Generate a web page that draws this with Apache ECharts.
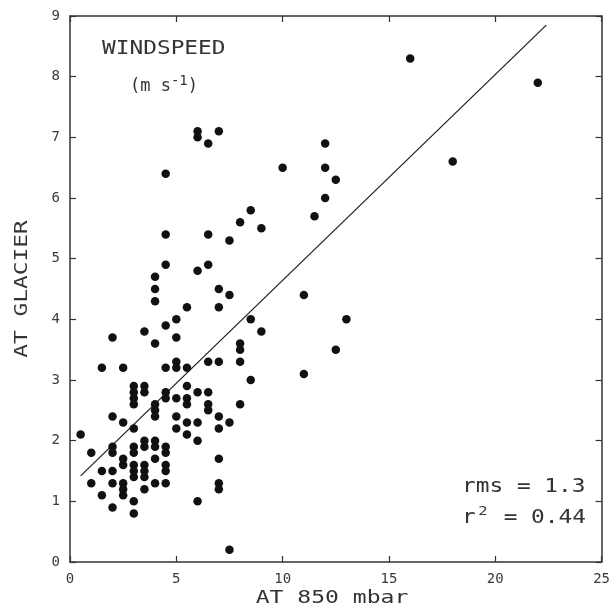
<!DOCTYPE html>
<html><head><meta charset="utf-8">
<script src="https://cdn.jsdelivr.net/npm/echarts@6/dist/echarts.min.js"></script>
<style>html,body{margin:0;padding:0;background:#fff}#c{width:613px;height:610px}</style>
</head><body><div id="c"></div>
<script>
// Wind speed (m s-1): at 850 mbar (x) vs at glacier (y)
const observations = [
  [0.5,2.1],
  [1,1.8],[1,1.3],
  [1.5,3.2],[1.5,1.5],[1.5,1.1],
  [2,3.7],[2,2.4],[2,1.9],[2,1.8],[2,1.5],[2,1.3],[2,0.9],
  [2.5,3.2],[2.5,2.3],[2.5,1.7],[2.5,1.6],[2.5,1.3],[2.5,1.2],[2.5,1.1],
  [3,2.9],[3,2.8],[3,2.7],[3,2.6],[3,2.2],[3,1.9],[3,1.8],[3,1.6],[3,1.5],[3,1.4],[3,1.0],[3,0.8],
  [3.5,3.8],[3.5,2.9],[3.5,2.8],[3.5,2.0],[3.5,1.9],[3.5,1.6],[3.5,1.5],[3.5,1.4],[3.5,1.2],
  [4,4.7],[4,4.5],[4,4.3],[4,3.6],[4,2.6],[4,2.5],[4,2.4],[4,2.0],[4,1.9],[4,1.7],[4,1.3],
  [4.5,6.4],[4.5,5.4],[4.5,4.9],[4.5,3.9],[4.5,3.2],[4.5,2.8],[4.5,2.7],[4.5,1.9],[4.5,1.8],[4.5,1.6],[4.5,1.5],[4.5,1.3],
  [5,4.0],[5,3.7],[5,3.3],[5,3.2],[5,2.7],[5,2.4],[5,2.2],
  [5.5,4.2],[5.5,3.2],[5.5,2.9],[5.5,2.7],[5.5,2.6],[5.5,2.3],[5.5,2.1],
  [6,7.1],[6,7.0],[6,4.8],[6,2.8],[6,2.3],[6,2.0],[6,1.0],
  [6.5,6.9],[6.5,5.4],[6.5,4.9],[6.5,3.3],[6.5,2.8],[6.5,2.6],[6.5,2.5],
  [7,7.1],[7,4.5],[7,4.2],[7,3.3],[7,2.4],[7,2.2],[7,1.7],[7,1.3],[7,1.2],
  [7.5,5.3],[7.5,4.4],[7.5,2.3],[7.5,0.2],
  [8,5.6],[8,3.6],[8,3.5],[8,3.3],[8,2.6],
  [8.5,5.8],[8.5,4.0],[8.5,3.0],
  [9,5.5],[9,3.8],
  [10,6.5],
  [11,4.4],[11,3.1],
  [11.5,5.7],
  [12,6.9],[12,6.5],[12,6.0],
  [12.5,6.3],[12.5,3.5],
  [13,4.0],
  [16,8.3],[18,6.6],[22,7.9]
];
const fitLine = [[0.5,1.42],[22.4,8.85]];
const xRange = [0, 25], xStep = 5;
const yRange = [0, 9], yStep = 1;
const xTitle = 'AT 850 mbar';
const yTitle = 'AT GLACIER';
const panelTitle = 'WINDSPEED';
const statRms = '1.3';
const statR2 = '0.44';

const FONT = '"DejaVu Sans Mono", monospace';
const INK = '#333333';
const axisLine = {show: true, lineStyle: {color: '#333', width: 1.5}};
const tick = {show: true, inside: true, length: 6, lineStyle: {color: '#333', width: 1.2}};
const labelStyle = {color: '#3a3a3a', fontFamily: FONT, fontSize: 14};

const chart = echarts.init(document.getElementById('c'), null, {renderer: 'canvas'});
chart.setOption({
  backgroundColor: '#ffffff',
  animation: false,
  grid: {left: 70, right: 5, top: 16, bottom: 48},
  xAxis: [
    {type: 'value', min: xRange[0], max: xRange[1], interval: xStep, position: 'bottom',
     axisLine: Object.assign({onZero: false}, axisLine), axisTick: tick,
     axisLabel: Object.assign({margin: 10}, labelStyle), splitLine: {show: false}},
    {type: 'value', min: xRange[0], max: xRange[1], interval: xStep, position: 'top',
     axisLine: Object.assign({onZero: false}, axisLine), axisTick: tick,
     axisLabel: {show: false}, splitLine: {show: false}}
  ],
  yAxis: [
    {type: 'value', min: yRange[0], max: yRange[1], interval: yStep, position: 'left',
     axisLine: Object.assign({onZero: false}, axisLine), axisTick: tick,
     axisLabel: Object.assign({margin: 10}, labelStyle), splitLine: {show: false}},
    {type: 'value', min: yRange[0], max: yRange[1], interval: yStep, position: 'right',
     axisLine: Object.assign({onZero: false}, axisLine), axisTick: tick,
     axisLabel: {show: false}, splitLine: {show: false}}
  ],
  series: [
    {type: 'line', data: fitLine, symbol: 'none', xAxisIndex: 0, yAxisIndex: 0,
     lineStyle: {color: '#222', width: 1.3}, z: 2, silent: true},
    {type: 'scatter', data: observations, xAxisIndex: 0, yAxisIndex: 0,
     symbol: 'circle', symbolSize: 8.5, itemStyle: {color: '#111', opacity: 1}, z: 3}
  ],
  graphic: [
    {type: 'text', x: 102, y: 49, scaleX: 1.2,
     style: {text: panelTitle, fill: INK, font: '19px ' + FONT, align: 'left', verticalAlign: 'middle'}},
    {type: 'text', x: 130, y: 87,
     style: {text: '(m s{sup|-1})', fill: INK, font: '17px ' + FONT, align: 'left', verticalAlign: 'middle',
             rich: {sup: {fontSize: 14, fontFamily: FONT, fill: INK, padding: [0, 0, 12, 0]}}}},
    {type: 'text', x: 462, y: 487, scaleX: 1.2,
     style: {text: 'rms = ' + statRms, fill: INK, font: '19px ' + FONT, align: 'left', verticalAlign: 'middle'}},
    {type: 'text', x: 462, y: 518, scaleX: 1.2,
     style: {text: 'r{sup|2} = ' + statR2, fill: INK, font: '19px ' + FONT, align: 'left', verticalAlign: 'middle',
             rich: {sup: {fontSize: 13, fontFamily: FONT, fill: INK, padding: [0, 2, 12, 2]}}}},
    {type: 'text', x: 332, y: 598, scaleX: 1.28,
     style: {text: xTitle, fill: INK, font: '18px ' + FONT, align: 'center', verticalAlign: 'middle'}},
    {type: 'text', x: 22, y: 289, rotation: Math.PI / 2, scaleX: 1.27,
     style: {text: yTitle, fill: INK, font: '18px ' + FONT, align: 'center', verticalAlign: 'middle'}}
  ]
});
</script></body></html>
